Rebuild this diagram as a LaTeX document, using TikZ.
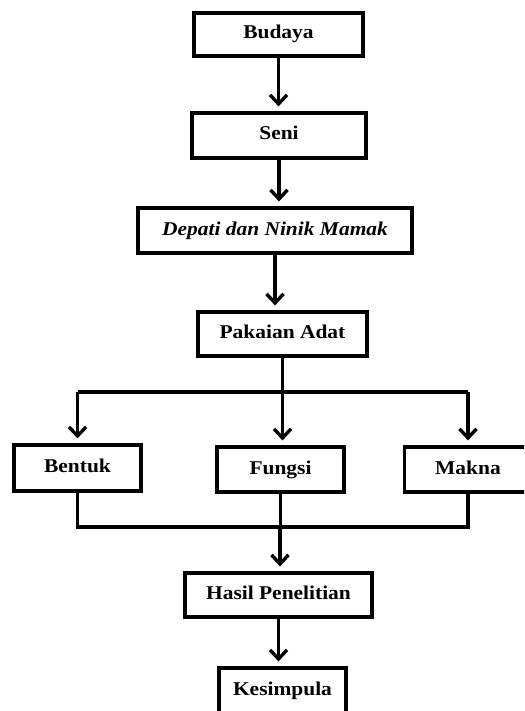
\documentclass[tikz,border=0pt]{standalone}
\usepackage{fontspec}
\setmainfont{Liberation Serif}
\newfontfamily\boxfont[FakeStretch=1.1]{Liberation Serif}
\usetikzlibrary{arrows.meta}
\tikzset{
  x=1pt, y=-1pt,
  box/.style={draw, line width=3.2pt, rectangle, inner sep=0pt,
    text height=12pt, text depth=3pt,
    font=\boxfont\fontsize{19.5}{22}\selectfont\bfseries},
  link/.style={line width=3.8pt},
  arr/.style={link, -{Straight Barb[length=9pt,width=17pt,line width=3.4pt]}, shorten >=5pt}
}
\begin{document}
\begin{tikzpicture}
\useasboundingbox (0,0) rectangle (524,711);
\clip (0,0) rectangle (524,711);
\node[box, minimum width=169pt, minimum height=43pt] (budaya) at (278.5,34.5) {Budaya};
\node[box, minimum width=174pt, minimum height=45pt] (seni) at (279,135.5) {Seni};
\node[box, minimum width=274pt, minimum height=45pt] (depati) at (275,230.5) {\itshape Depati dan Ninik Mamak};
\node[box, minimum width=169pt, minimum height=44pt] (pakaian) at (282.5,334) {Pakaian Adat};
\node[box, minimum width=127pt, minimum height=46pt] (bentuk) at (77.5,468) {Bentuk};
\node[box, minimum width=127pt, minimum height=45pt] (fungsi) at (280.5,469.5) {Fungsi};
\node[box, minimum width=127pt, minimum height=45pt] (makna) at (468,469.5) {Makna};
\node[box, minimum width=187pt, minimum height=44pt] (hasil) at (278.5,595) {Hasil Penelitian};
\node[box, minimum width=127pt, minimum height=45pt] (kesimpula) at (282.5,690.5) {Kesimpula};

\coordinate (br) at (282.5,392);
\coordinate (mg) at (280,527);

\draw[arr] (budaya.south) -- (budaya.south |- seni.north);
\draw[arr] (seni.south) -- (seni.south |- depati.north);
\draw[arr] (depati.south) -- (depati.south |- pakaian.north);

\draw[link] (pakaian.south) -- (br);
\draw[link] (bentuk.north |- br) -- (makna.north |- br);
\draw[arr] (bentuk.north |- br) -- (bentuk.north);
\draw[arr] (br) -- (br |- fungsi.north);
\draw[arr] (makna.north |- br) -- (makna.north);

\draw[link] (bentuk.south) -- (bentuk.south |- mg) -- (makna.south |- mg) -- (makna.south);
\draw[link] (fungsi.south) -- (fungsi.south |- mg);
\draw[arr] (mg) -- (mg |- hasil.north);
\draw[arr] (hasil.south) -- (hasil.south |- kesimpula.north);
\end{tikzpicture}
\end{document}
